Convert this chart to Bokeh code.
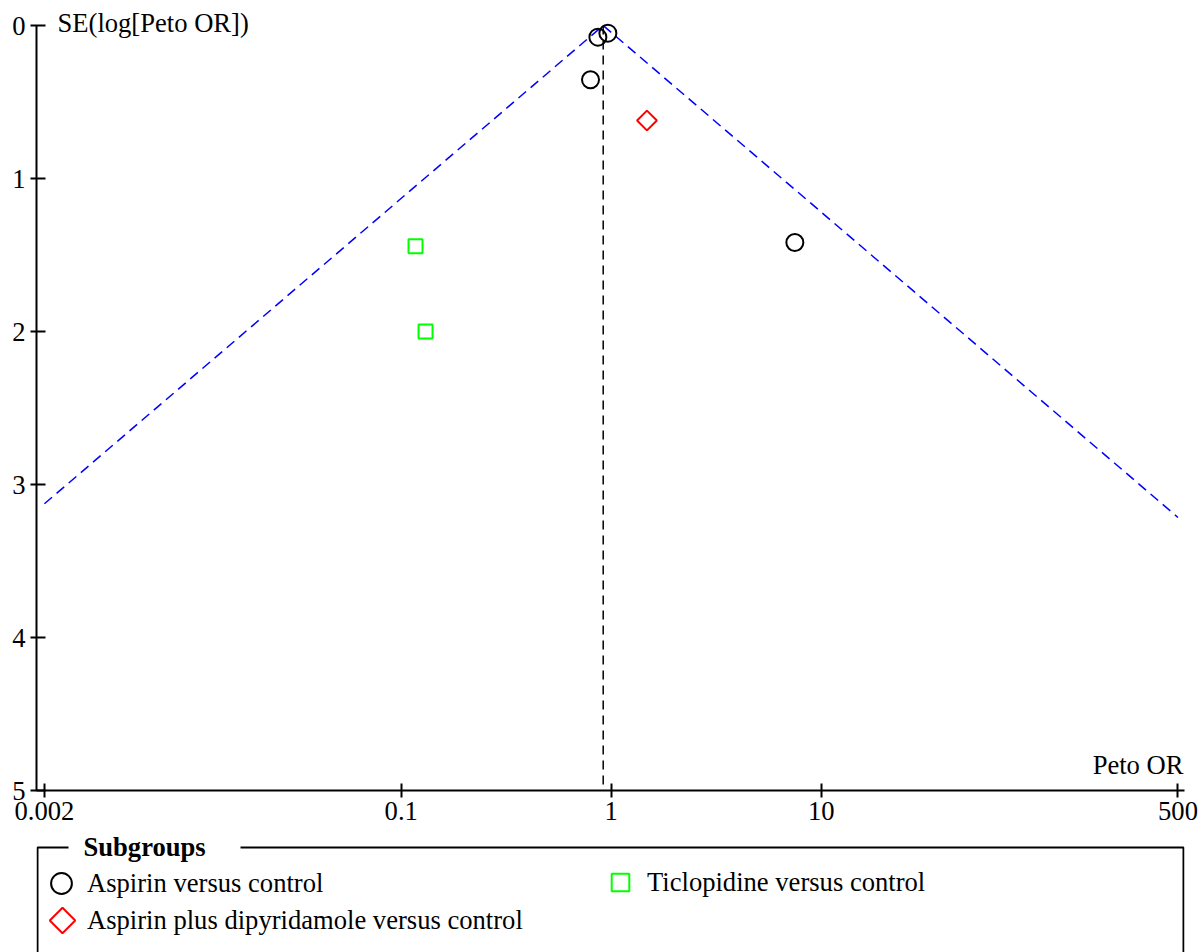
import numpy as np
from bokeh.plotting import figure
from bokeh.layouts import column
from bokeh.models import (Range1d, FixedTicker, Label, BoxAnnotation,
                          Legend, LegendItem)
from bokeh.embed import file_html
from bokeh.resources import INLINE

# ---------------- data ----------------
aspirin_or = [0.964, 0.864, 0.797, 7.49]
aspirin_se = [0.050, 0.076, 0.355, 1.418]
ticlo_or = [0.117, 0.1306]
ticlo_se = [1.442, 2.0]
apd_or = [1.48]
apd_se = [0.621]
pooled_or = 0.916
x_lim = [0.002, 500.0]
se_max = 5
x_ticks = [0.002, 0.1, 1.0, 10.0, 500.0]
x_tick_labels = ["0.002", "0.1", "1", "10", "500"]
y_ticks = [0, 1, 2, 3, 4, 5]
subgroup_names = ["Aspirin versus control",
                  "Ticlopidine versus control",
                  "Aspirin plus dipyridamole versus control"]

# ---------------- layout ----------------
W, H = 1204, 952
TOP_H = 832                      # height of the funnel-plot figure
FL, FR, FT, FB = 36, 1184, 25, 790
PX_ONE, PX_DEC = 610.7, 210.0
FONT = "Liberation Serif"
FS = "26.6px"


def px2x(px):
    return 10 ** ((px - PX_ONE) / PX_DEC)


def py2y(py):
    return se_max * (py - FT) / (FB - FT)


p = figure(width=W, height=TOP_H, x_axis_type="log",
           x_range=Range1d(px2x(FL), px2x(FR)),
           y_range=Range1d(se_max, py2y(0)),
           output_backend="svg", toolbar_location=None,
           min_border_left=FL, min_border_right=W - FR,
           min_border_top=0, min_border_bottom=TOP_H - FB)
p.outline_line_color = None
p.xgrid.visible = False
p.ygrid.visible = False

# funnel (95% limits around pooled estimate), clipped at axis limits
se_left = np.log(pooled_or / x_lim[0]) / 1.96
se_right = np.log(x_lim[1] / pooled_or) / 1.96
p.line([x_lim[0], pooled_or, x_lim[1]], [se_left, 0, se_right],
       line_color="#0000FF", line_width=1.5, line_dash="10 6")
p.line([pooled_or, pooled_or], [0, se_max], line_color="black",
       line_width=1.5, line_dash="9 6")

STYLE_ASP = dict(marker="circle", size=17, fill_color=None,
                 line_color="black", line_width=2)
STYLE_TIC = dict(marker="square", size=14, fill_color=None,
                 line_color="#00FF00", line_width=2)
STYLE_APD = dict(marker="square", angle=np.pi / 4, size=14, fill_color=None,
                 line_color="#FF0000", line_width=2)

p.scatter(aspirin_or, aspirin_se, **STYLE_ASP)
p.scatter(ticlo_or, ticlo_se, **STYLE_TIC)
p.scatter(apd_or, apd_se, **STYLE_APD)

# axes
xa, ya = p.xaxis[0], p.yaxis[0]
for ax in (xa, ya):
    ax.axis_line_width = 2
    ax.axis_line_color = "black"
    ax.major_tick_line_width = 2
    ax.major_tick_line_color = "black"
    ax.minor_tick_line_color = None
    ax.major_label_text_font = FONT
    ax.major_label_text_font_size = FS
    ax.major_label_text_color = "black"
xa.ticker = FixedTicker(ticks=x_ticks)
xa.major_label_overrides = dict(zip(x_ticks, x_tick_labels))
xa.major_tick_in = 7
xa.major_tick_out = 7
xa.major_label_standoff = 4
ya.ticker = FixedTicker(ticks=y_ticks)
ya.bounds = (0, se_max)
ya.major_tick_in = 9
ya.major_tick_out = 6
ya.major_label_standoff = 5

# axis titles
p.add_layout(Label(x=px2x(FL), y=0, x_offset=21, y_offset=3,
                   text="SE(log[Peto OR])", text_font=FONT, text_font_size=FS,
                   text_color="black", text_align="left",
                   text_baseline="alphabetic"))
p.add_layout(Label(x=px2x(FR), y=se_max, x_offset=-1, y_offset=26,
                   text="Peto OR", text_font=FONT, text_font_size=FS,
                   text_color="black", text_align="right",
                   text_baseline="alphabetic"))

# ---------------- legend figure (canvas pixel coordinates) ----------------
LH = H - TOP_H
q = figure(width=W, height=LH, x_range=Range1d(FL, FR),
           y_range=Range1d(H, TOP_H),
           x_axis_location=None, y_axis_location=None,
           output_backend="svg", toolbar_location=None,
           min_border_left=FL, min_border_right=W - FR,
           min_border_top=0, min_border_bottom=0)
q.outline_line_color = None
q.xgrid.visible = False
q.ygrid.visible = False

nan = [float("nan")]
l1 = q.scatter(nan, nan, **STYLE_ASP)
l2 = q.scatter(nan, nan, **STYLE_TIC)
l3 = q.scatter(nan, nan, **dict(STYLE_APD, line_alpha=0))
# legend key for the rotated-square marker (legend keys ignore the angle)
q.scatter([62], [920], **dict(STYLE_APD, size=18))

q.add_layout(BoxAnnotation(left=37, right=1183, top=847, bottom=H + 60,
                           fill_color=None, fill_alpha=0,
                           line_color="black", line_alpha=1, line_width=2))
q.add_layout(BoxAnnotation(left=68, right=240, top=843, bottom=851,
                           fill_color="white", fill_alpha=1, line_color=None))
q.add_layout(Label(x=83, y=846, text="Subgroups",
                   text_font=FONT, text_font_size=FS, text_font_style="bold",
                   text_color="black", text_align="left",
                   text_baseline="alphabetic"))


def one_legend(name, renderer, glyph, vx, vy, standoff):
    return Legend(items=[LegendItem(label=name, renderers=[renderer])],
                  location=(vx, vy), orientation="horizontal",
                  glyph_width=glyph, glyph_height=glyph, spacing=0,
                  label_standoff=standoff, padding=0, margin=0,
                  border_line_color=None, background_fill_alpha=0,
                  label_text_font=FONT, label_text_font_size=FS,
                  label_text_color="black")


q.add_layout(one_legend(subgroup_names[0], l1, 52, -1, 43, 0))
q.add_layout(one_legend(subgroup_names[1], l2, 44, 562, 48, 5))
q.add_layout(one_legend(subgroup_names[2], l3, 46, 3, 9, 2))

layout = column(p, q, spacing=0)
open("out.html", "w").write(file_html(layout, INLINE))
